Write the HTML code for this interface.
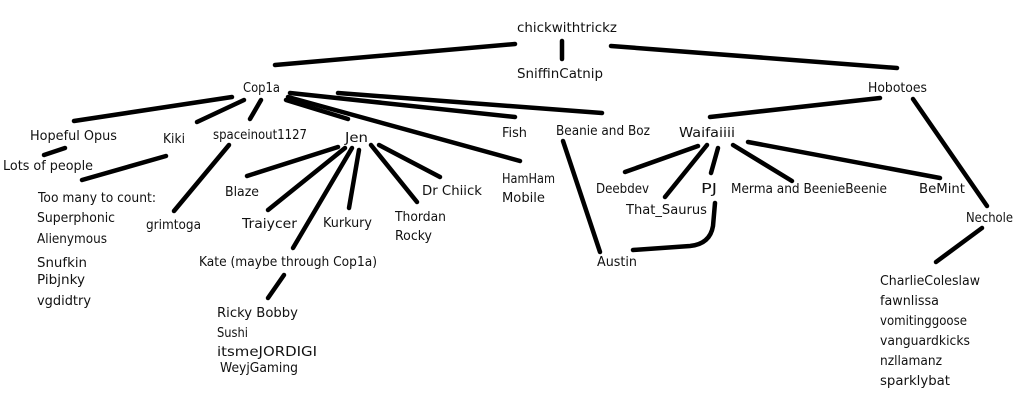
<!DOCTYPE html>
<html>
<head>
<meta charset="utf-8">
<style>
html,body{margin:0;padding:0;background:#fff;}
svg{display:block;}
text{font-family:"DejaVu Sans","Liberation Sans",sans-serif;font-size:13.5px;fill:#111;}
</style>
</head>
<body>
<svg width="1023" height="404" viewBox="0 0 1023 404" xmlns="http://www.w3.org/2000/svg">
<rect width="1023" height="404" fill="#fff"/>
<g stroke="#000" stroke-width="4.5" stroke-linecap="round" fill="none">
  <!-- top -->
  <line x1="275" y1="65" x2="515" y2="44"/>
  <line x1="562" y1="41" x2="562" y2="59"/>
  <line x1="611" y1="46" x2="897" y2="68"/>
  <!-- Cop1a -->
  <line x1="232" y1="97" x2="74" y2="121"/>
  <line x1="244" y1="100" x2="197" y2="122"/>
  <line x1="261" y1="100" x2="250" y2="119"/>
  <line x1="286" y1="100" x2="348" y2="119"/>
  <line x1="290" y1="93" x2="515" y2="117"/>
  <line x1="338" y1="93" x2="602" y2="113"/>
  <line x1="288" y1="97" x2="520" y2="161"/>
  <!-- left subtrees -->
  <line x1="65" y1="148" x2="44" y2="155"/>
  <line x1="166" y1="156" x2="82" y2="180"/>
  <line x1="229" y1="145" x2="174" y2="211"/>
  <!-- Jen -->
  <line x1="338" y1="147" x2="247" y2="176"/>
  <line x1="345" y1="148" x2="268" y2="210"/>
  <line x1="352" y1="148" x2="293" y2="248"/>
  <line x1="359" y1="150" x2="349" y2="208"/>
  <line x1="371" y1="145" x2="417" y2="202"/>
  <line x1="379" y1="145" x2="440" y2="177"/>
  <line x1="284" y1="275" x2="268" y2="298"/>
  <!-- Beanie -> Austin -->
  <line x1="563" y1="141" x2="600" y2="252"/>
  <!-- Hobotoes -->
  <line x1="880" y1="98" x2="710" y2="117"/>
  <line x1="913" y1="99" x2="987" y2="206"/>
  <!-- Waifaiiii -->
  <line x1="698" y1="146" x2="625" y2="172"/>
  <line x1="707" y1="145" x2="665" y2="197"/>
  <line x1="718" y1="148" x2="711" y2="173"/>
  <line x1="733" y1="145" x2="792" y2="181"/>
  <line x1="748" y1="142" x2="940" y2="178"/>
  <path d="M715,203 L713,226 Q710,244 690,246 L633,250"/>
  <!-- Nechole -->
  <line x1="982" y1="228" x2="936" y2="262"/>
</g>
<g lengthAdjust="spacingAndGlyphs">
  <text x="517" y="32" textLength="100" lengthAdjust="spacingAndGlyphs">chickwithtrickz</text>
  <text x="517" y="78" textLength="86" lengthAdjust="spacingAndGlyphs">SniffinCatnip</text>
  <text x="868" y="92" textLength="59" lengthAdjust="spacingAndGlyphs">Hobotoes</text>
  <text x="243" y="92" textLength="37" lengthAdjust="spacingAndGlyphs">Cop1a</text>
  <text x="30" y="140" textLength="87" lengthAdjust="spacingAndGlyphs">Hopeful Opus</text>
  <text x="163" y="143" textLength="22" lengthAdjust="spacingAndGlyphs">Kiki</text>
  <text x="213" y="139" textLength="94" lengthAdjust="spacingAndGlyphs">spaceinout1127</text>
  <text x="345" y="142" textLength="23" lengthAdjust="spacingAndGlyphs">Jen</text>
  <text x="502" y="137" textLength="25" lengthAdjust="spacingAndGlyphs">Fish</text>
  <text x="556" y="135" textLength="94" lengthAdjust="spacingAndGlyphs">Beanie and Boz</text>
  <text x="679" y="137" textLength="56" lengthAdjust="spacingAndGlyphs">Waifaiiii</text>
  <text x="3" y="170" textLength="90" lengthAdjust="spacingAndGlyphs">Lots of people</text>
  <text x="38" y="202" textLength="118" lengthAdjust="spacingAndGlyphs">Too many to count:</text>
  <text x="37" y="222" textLength="78" lengthAdjust="spacingAndGlyphs">Superphonic</text>
  <text x="37" y="243" textLength="70" lengthAdjust="spacingAndGlyphs">Alienymous</text>
  <text x="37" y="267" textLength="50" lengthAdjust="spacingAndGlyphs">Snufkin</text>
  <text x="37" y="284" textLength="48" lengthAdjust="spacingAndGlyphs">Pibjnky</text>
  <text x="37" y="305" textLength="54" lengthAdjust="spacingAndGlyphs">vgdidtry</text>
  <text x="146" y="229" textLength="55" lengthAdjust="spacingAndGlyphs">grimtoga</text>
  <text x="225" y="196" textLength="34" lengthAdjust="spacingAndGlyphs">Blaze</text>
  <text x="242" y="228" textLength="55" lengthAdjust="spacingAndGlyphs">Traiycer</text>
  <text x="323" y="227" textLength="49" lengthAdjust="spacingAndGlyphs">Kurkury</text>
  <text x="422" y="195" textLength="60" lengthAdjust="spacingAndGlyphs">Dr Chiick</text>
  <text x="395" y="221" textLength="51" lengthAdjust="spacingAndGlyphs">Thordan</text>
  <text x="395" y="240" textLength="37" lengthAdjust="spacingAndGlyphs">Rocky</text>
  <text x="199" y="266" textLength="178" lengthAdjust="spacingAndGlyphs">Kate (maybe through Cop1a)</text>
  <text x="217" y="317" textLength="81" lengthAdjust="spacingAndGlyphs">Ricky Bobby</text>
  <text x="217" y="337" textLength="31" lengthAdjust="spacingAndGlyphs">Sushi</text>
  <text x="217" y="356" textLength="100" lengthAdjust="spacingAndGlyphs">itsmeJORDIGI</text>
  <text x="220" y="372" textLength="78" lengthAdjust="spacingAndGlyphs">WeyjGaming</text>
  <text x="502" y="183" textLength="53" lengthAdjust="spacingAndGlyphs">HamHam</text>
  <text x="502" y="202" textLength="43" lengthAdjust="spacingAndGlyphs">Mobile</text>
  <text x="596" y="193" textLength="53" lengthAdjust="spacingAndGlyphs">Deebdev</text>
  <text x="701" y="193" textLength="16" lengthAdjust="spacingAndGlyphs">PJ</text>
  <text x="731" y="193" textLength="156" lengthAdjust="spacingAndGlyphs">Merma and BeenieBeenie</text>
  <text x="919" y="193" textLength="46" lengthAdjust="spacingAndGlyphs">BeMint</text>
  <text x="626" y="214" textLength="81" lengthAdjust="spacingAndGlyphs">That_Saurus</text>
  <text x="597" y="266" textLength="40" lengthAdjust="spacingAndGlyphs">Austin</text>
  <text x="966" y="222" textLength="47" lengthAdjust="spacingAndGlyphs">Nechole</text>
  <text x="880" y="285" textLength="100" lengthAdjust="spacingAndGlyphs">CharlieColeslaw</text>
  <text x="880" y="305" textLength="59" lengthAdjust="spacingAndGlyphs">fawnlissa</text>
  <text x="880" y="325" textLength="87" lengthAdjust="spacingAndGlyphs">vomitinggoose</text>
  <text x="880" y="345" textLength="90" lengthAdjust="spacingAndGlyphs">vanguardkicks</text>
  <text x="880" y="365" textLength="62" lengthAdjust="spacingAndGlyphs">nzllamanz</text>
  <text x="880" y="385" textLength="70" lengthAdjust="spacingAndGlyphs">sparklybat</text>
</g>
</svg>
</body>
</html>
